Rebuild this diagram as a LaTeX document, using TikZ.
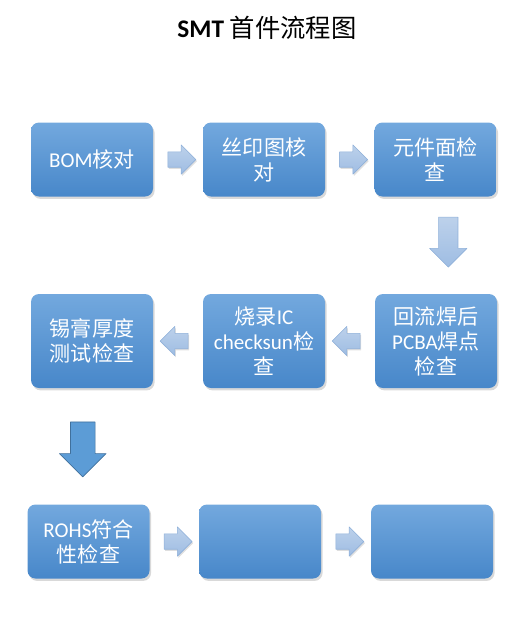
\documentclass[tikz,border=0pt]{standalone}
\usepackage{fontspec}
\setmainfont{Carlito}
\newfontfamily\cjk{Noto Sans CJK SC}
\usetikzlibrary{shapes.arrows,shadows,calc}
\definecolor{boxtop}{rgb}{0.45,0.66,0.87}
\definecolor{boxbot}{rgb}{0.28,0.53,0.79}
\definecolor{arrtop}{rgb}{0.74,0.82,0.92}
\definecolor{arrbot}{rgb}{0.62,0.74,0.89}
\definecolor{arrline}{rgb}{0.56,0.69,0.85}
\definecolor{accblue}{rgb}{0.36,0.61,0.84}
\definecolor{accline}{rgb}{0.25,0.44,0.61}
\newcommand\zh[1]{{\cjk #1}}

\begin{document}
\begin{tikzpicture}[line join=round,x=0.75pt,y=-0.75pt,
  flowbox/.style={rounded corners=6pt,minimum width=91.5pt,minimum height=55.5pt,inner sep=0pt,
    top color=boxtop,bottom color=boxbot,text=white,align=center,
    font=\fontsize{15.8}{18.75}\selectfont,
    drop shadow={shadow xshift=1.2pt,shadow yshift=-1.8pt,opacity=0.3}},
  tallbox/.style={flowbox,minimum height=70.5pt},
  lightarrow/.style={top color=arrtop,bottom color=arrbot,draw=arrline,line width=0.4pt},
  thinarrow/.style={single arrow,single arrow head extend=5.25pt,minimum height=21pt,
    inner xsep=0pt,inner ysep=5.6pt,lightarrow,
    drop shadow={shadow xshift=0.8pt,shadow yshift=-1.2pt,opacity=0.25}},
  bigarrow/.style={single arrow,shape border rotate=270,single arrow head extend=6.75pt,minimum height=37.5pt,
    inner ysep=0pt,inner xsep=7.1pt}]
\useasboundingbox (0,0) rectangle (528,633);
% title
\node (title) at (267,28) {\fontsize{19}{22}\selectfont\textbf{SMT} \zh{首件流程图}};
% row 1
\node[flowbox] (bom) at (92,159.5) {BOM\zh{核对}};
\node[flowbox] (silk) at (264,159.5) {\zh{丝印图核}\\\zh{对}};
\node[flowbox] (part) at (435.5,159.5) {\zh{元件面检}\\\zh{查}};
% row 2
\node[tallbox] (reflow) at (436,341) {\zh{回流焊后}\\PCBA\zh{焊点}\\\zh{检查}};
\node[tallbox] (burn) at (264,341) {\zh{烧录}IC\\checksun\zh{检}\\\zh{查}};
\node[tallbox] (paste) at (92,341) {\zh{锡膏厚度}\\\zh{测试检查}};
% row 3
\node[flowbox] (rohs) at (88.5,541.5) {ROHS\zh{符合}\\\zh{性检查}};
\node[flowbox] (blanka) at (260,541.5) {};
\node[flowbox] (blankb) at (432,541.5) {};
% arrows
\node[thinarrow] (a1) at ($(bom.east)!0.5!(silk.west)$) {};
\node[thinarrow] (a2) at ($(silk.east)!0.5!(part.west)$) {};
\node[bigarrow,lightarrow] (a3) at ($(part.south)!0.5!(reflow.north)+(12.5,-8)$) {};
\node[thinarrow,shape border rotate=180] (a4) at ($(reflow.west)!0.5!(burn.east)$) {};
\node[thinarrow,shape border rotate=180] (a5) at ($(burn.west)!0.5!(paste.east)$) {};
\node[bigarrow,single arrow head extend=8.25pt,minimum height=41.25pt,inner xsep=9pt,
  fill=accblue,draw=accline,line width=0.5pt] (a6) at ($(paste.south)!0.5!(rohs.north)+(-7.5,-3)$) {};
\node[thinarrow] (a7) at ($(rohs.east)!0.5!(blanka.west)$) {};
\node[thinarrow] (a8) at ($(blanka.east)!0.5!(blankb.west)$) {};
\end{tikzpicture}
\end{document}
